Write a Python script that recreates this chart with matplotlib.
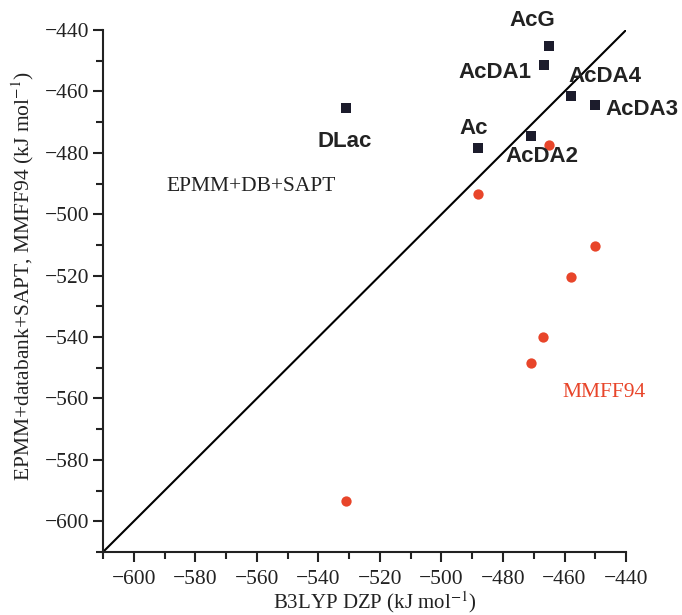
import matplotlib
matplotlib.use("Agg")
import matplotlib.pyplot as plt
from matplotlib.ticker import MultipleLocator
import numpy as np

# EPMM+databank+SAPT vs B3LYP DZP
names = ["AcG", "AcDA1", "AcDA4", "AcDA3", "AcDA2", "Ac", "DLac"]
b3lyp_epmm = [-465.2, -466.8, -458.0, -450.0, -471.0, -488.0, -531.0]
epmm_db_sapt = [-445.2, -451.5, -461.5, -464.5, -474.5, -478.5, -465.5]

# MMFF94 vs B3LYP DZP
b3lyp_mmff = [-465.0, -488.0, -450.0, -458.0, -467.0, -471.0, -531.0]
mmff94 = [-477.5, -493.5, -510.5, -520.5, -540.0, -548.5, -593.5]

# label offsets (points) and alignment per name
label_offsets = {
    "AcG": ((-11.5, 18), "center"),
    "AcDA1": ((-9, -5), "right"),
    "AcDA4": ((-1.5, 14), "left"),
    "AcDA3": ((7, -3), "left"),
    "AcDA2": ((8, -15), "center"),
    "Ac": ((-3.6, 14), "center"),
    "DLac": ((-0.7, -24), "center"),
}

plt.rcParams["font.family"] = ["Liberation Serif", "DejaVu Serif"]
plt.rcParams["mathtext.fontset"] = "stix"

fig = plt.figure(figsize=(6.82, 6.15), dpi=100)
ax = fig.add_axes([0.151, 0.1024, 0.767, 0.8488])

lims = [-610, -440]
ax.plot(lims, lims, color="black", lw=1.5, zorder=1)

ax.scatter(b3lyp_mmff, mmff94, s=55, color="#e8452a", zorder=3, linewidths=0)
ax.scatter(b3lyp_epmm, epmm_db_sapt, s=45, marker="s", color="#1c1c2c",
           zorder=3, linewidths=0)

for name, x, y in zip(names, b3lyp_epmm, epmm_db_sapt):
    off, ha = label_offsets[name]
    ax.annotate(name, (x, y), xytext=off, textcoords="offset points",
                ha=ha, va="center", fontsize=16, fontweight="bold",
                family=["Liberation Sans", "DejaVu Sans"], color="#222222")

ax.text(-562, -491, "EPMM+DB+SAPT", fontsize=15.5, ha="center", va="center",
        color="#222222")
ax.text(-447.3, -558.2, "MMFF94", fontsize=15.5, ha="center", va="center",
        color="#e8452a")

ax.set_xlim(lims)
ax.set_ylim(lims)
ax.xaxis.set_minor_locator(MultipleLocator(10))
ax.yaxis.set_minor_locator(MultipleLocator(10))
ax.set_xticks(np.arange(-600, -439, 20))
ax.set_yticks(np.arange(-600, -439, 20))

ax.spines["top"].set_visible(False)
ax.spines["right"].set_visible(False)
for s in ["left", "bottom"]:
    ax.spines[s].set_linewidth(1.5)
    ax.spines[s].set_color("#222222")
ax.tick_params(which="major", direction="out", length=7, width=1.5,
               labelsize=15.5, colors="#222222", pad=3)
ax.tick_params(axis="x", which="major", pad=6)
ax.tick_params(which="minor", direction="out", length=5, width=1.5,
               colors="#222222")

ax.set_xlabel(r"B3LYP DZP (kJ mol$^{-1}$)", fontsize=15, labelpad=0,
              color="#222222")
ax.xaxis.set_label_coords(0.52, -0.072)
ax.set_ylabel(r"EPMM+databank+SAPT, MMFF94 (kJ mol$^{-1}$)", fontsize=15.5,
              labelpad=3, color="#222222")
ax.yaxis.set_label_coords(-0.128, 0.529)

fig.savefig("out.png", dpi=100)
